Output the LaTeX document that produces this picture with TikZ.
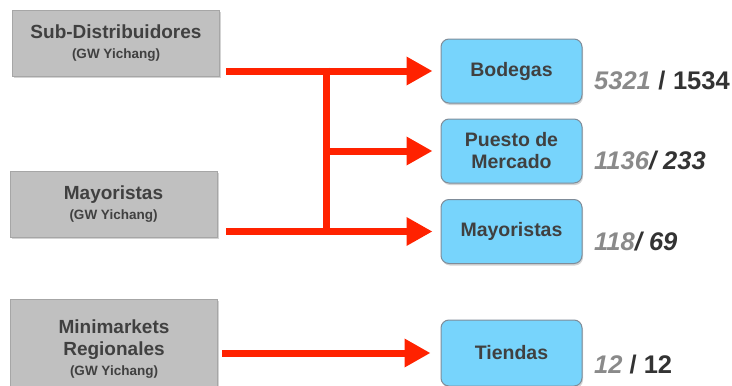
\documentclass[tikz,border=0pt]{standalone}
\usepackage{fontspec}
\setmainfont{Liberation Sans}
\usetikzlibrary{arrows.meta,shadows}
\definecolor{txt}{HTML}{404040}
\definecolor{numgray}{HTML}{8A8A8A}
\definecolor{numdark}{HTML}{333333}
\definecolor{boxgray}{HTML}{C0C0C0}
\definecolor{boxgrayline}{HTML}{A6A6A6}
\definecolor{boxblue}{HTML}{77D4FC}
\definecolor{boxblueline}{HTML}{7F8C99}
\definecolor{arrred}{HTML}{FF2200}
\newcommand{\gwsmall}{{\fontsize{13.5}{20}\selectfont (GW Yichang)}}
\begin{document}
\begin{tikzpicture}[x=1pt,y=-1pt,
  graybox/.style={draw=boxgrayline, fill=boxgray, line width=1pt, minimum width=207pt,
    align=center, text=txt, font=\fontsize{19}{20}\selectfont\bfseries, inner sep=0pt,
    drop shadow={shadow xshift=1.5pt, shadow yshift=-1.5pt, opacity=0.35}},
  bluebox/.style={draw=boxblueline, fill=boxblue, line width=1pt, rounded corners=8pt,
    minimum width=141pt, minimum height=64pt, align=center, text=txt,
    font=\fontsize{19.5}{22}\selectfont\bfseries, inner sep=0pt,
    drop shadow={shadow xshift=1pt, shadow yshift=-2pt, opacity=0.35}},
  numtxt/.style={anchor=base west, inner sep=0pt, font=\fontsize{25.5}{30}\selectfont\bfseries},
  arr/.style={draw=arrred, line width=7pt, -{Triangle[length=26pt,width=27pt]}},
  seg/.style={draw=arrred, line width=7pt}
]
\useasboundingbox (0,0) rectangle (732,386);
\begin{scope}
\clip (0,0) rectangle (732,386);
% left boxes
\node[graybox, minimum height=66pt] (g1) at (116,43)
  {Sub-Distribuidores\\\gwsmall};
\node[graybox, minimum height=66pt] (g2) at (113.5,204)
  {Mayoristas\\\gwsmall};
\node[graybox, minimum height=100pt] (g3) at (114,349)
  {Minimarkets\\[2pt]Regionales\\\gwsmall};
% right boxes
\node[bluebox] (bod) at (511.5,71) {Bodegas};
\node[bluebox] (pue) at (511.5,151) {Puesto de\\Mercado};
\node[bluebox] (may) at (511.5,231.5) {Mayoristas};
\node[bluebox, minimum height=66pt] (tie) at (511.5,353) {Tiendas};
% connectors
\coordinate (s1) at (226,71);
\coordinate (s2) at (226,231.5);
\coordinate (s3) at (222,353);
\coordinate (jt) at (326,71);
\coordinate (jb) at (326,231.5);
\coordinate (jm) at (326,151);
\draw[seg] ([yshift=3.5pt]jt) -- ([yshift=-3.5pt]jb);
\draw[arr, shorten >=8pt] (s1) -- (bod.west);
\draw[arr, shorten >=8pt] (jm) -- (pue.west);
\draw[arr, shorten >=8pt] (s2) -- (may.west);
\draw[arr, shorten >=10pt] (s3) -- (tie.west);
% numbers
\node[numtxt] (n1) at (594,89) {\textcolor{numgray}{\itshape 5321}\hspace{7.5pt}\textcolor{numdark}{/\hspace{7.5pt}1534}};
\node[numtxt] (n2) at (594,169) {\itshape\textcolor{numgray}{1136}\textcolor{numdark}{/\ 233}};
\node[numtxt] (n3) at (594,250) {\itshape\textcolor{numgray}{118}\textcolor{numdark}{/\ 69}};
\node[numtxt] (n4) at (594,373) {\textcolor{numgray}{\itshape 12}\ \textcolor{numdark}{/ 12}};
\end{scope}
\end{tikzpicture}
\end{document}
